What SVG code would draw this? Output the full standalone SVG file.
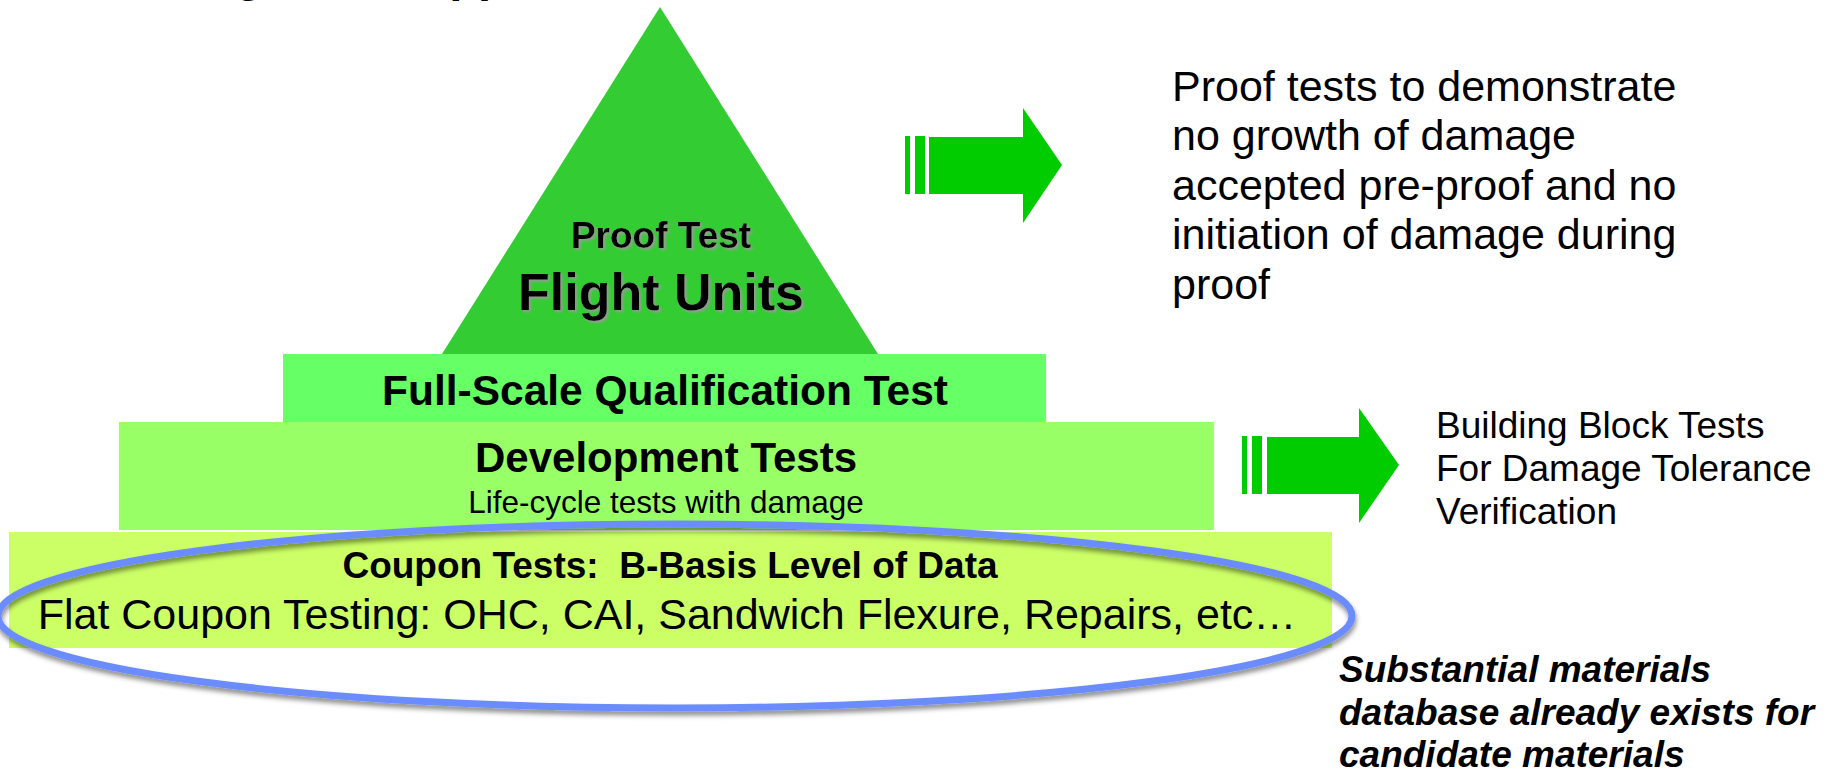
<svg xmlns="http://www.w3.org/2000/svg" width="1836" height="772" viewBox="0 0 1836 772">
<defs>
<style>
text{font-family:"Liberation Sans",Arial,Helvetica,sans-serif;fill:#000}
.b{font-weight:bold}
.c{text-anchor:middle}
.arrow{fill:#00cc00}
.note{font-size:43px}
.bb{font-size:37px}
.sub{font-size:37px;font-weight:bold;font-style:italic}
</style>
<filter id="tshadow" x="-10%" y="-20%" width="120%" height="150%">
<feDropShadow dx="2" dy="2" stdDeviation="1" flood-color="#9a9a9a" flood-opacity="0.9"/>
</filter>
<filter id="eshadow" x="-5%" y="-20%" width="110%" height="150%">
<feDropShadow dx="1" dy="4" stdDeviation="2.5" flood-color="#000" flood-opacity="0.45"/>
</filter>
</defs>
<rect width="1836" height="772" fill="#fff"/>

<g id="title">
<text class="b" x="75" y="-9" font-size="47">Building Block Approach</text>
</g>

<g id="flight-units">
<polygon points="660,7 878,354 442,354" fill="#33cc33"/>
<text class="b c" x="661" y="248" font-size="37" filter="url(#tshadow)">Proof Test</text>
<text class="b c" x="661" y="310" font-size="52" filter="url(#tshadow)">Flight Units</text>
</g>

<g id="full-scale">
<rect x="283" y="354" width="763" height="68" fill="#66ff66"/>
<text class="b c" x="665" y="405" font-size="42.5">Full-Scale Qualification Test</text>
</g>

<g id="development">
<rect x="119" y="422" width="1095" height="108" fill="#99ff66"/>
<text class="b c" x="666" y="472" font-size="42">Development Tests</text>
<text class="c" x="666" y="513" font-size="31.5">Life-cycle tests with damage</text>
</g>

<g id="coupon">
<rect x="9" y="532" width="1323" height="116" fill="#ccff66"/>
<text class="b c" x="670" y="578" font-size="37" xml:space="preserve">Coupon Tests:  B-Basis Level of Data</text>
<text class="c" x="667" y="629" font-size="43">Flat Coupon Testing: OHC, CAI, Sandwich Flexure, Repairs, etc…</text>
</g>

<g id="highlight">
<ellipse cx="675" cy="616" rx="677" ry="92" fill="none" stroke="#6a8cff" stroke-width="7" filter="url(#eshadow)"/>
</g>

<g id="arrows">
<g id="arrow-top">
<rect class="arrow" x="905" y="136" width="5" height="58"/>
<rect class="arrow" x="915" y="136" width="10" height="58"/>
<polygon class="arrow" points="929,137 1023,137 1023,108 1062,165 1023,223 1023,194 929,194"/>
</g>
<g id="arrow-mid">
<rect class="arrow" x="1242" y="436" width="5" height="58"/>
<rect class="arrow" x="1252" y="436" width="10" height="58"/>
<polygon class="arrow" points="1267,437 1359,437 1359,408 1399,465 1359,523 1359,494 1267,494"/>
</g>
</g>

<g id="proof-note">
<text class="note" x="1172" y="101">Proof tests to demonstrate</text>
<text class="note" x="1172" y="150">no growth of damage</text>
<text class="note" x="1172" y="200">accepted pre-proof and no</text>
<text class="note" x="1172" y="249">initiation of damage during</text>
<text class="note" x="1172" y="299">proof</text>
</g>

<g id="building-block-note">
<text class="bb" x="1436" y="438">Building Block Tests</text>
<text class="bb" x="1436" y="481">For Damage Tolerance</text>
<text class="bb" x="1436" y="524">Verification</text>
</g>

<g id="materials-note">
<text class="sub" x="1339" y="682">Substantial materials</text>
<text class="sub" x="1339" y="725">database already exists for</text>
<text class="sub" x="1339" y="767">candidate materials</text>
</g>
</svg>
